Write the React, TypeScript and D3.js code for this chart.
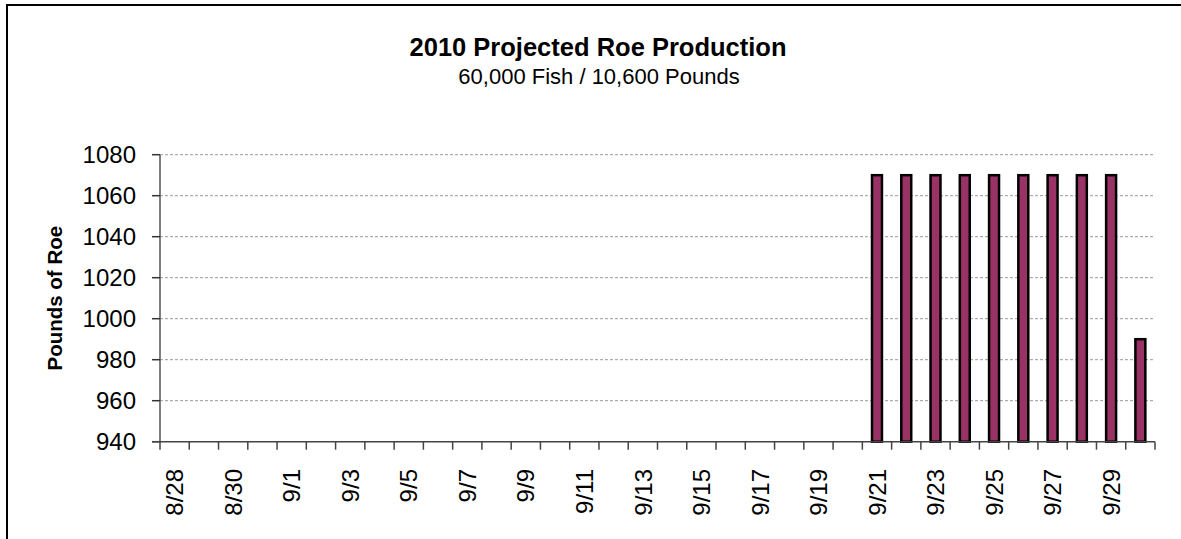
import React, { useRef, useEffect } from "react";
import * as d3 from "d3";

// Days shown on the x axis (8/28 .. 9/30)
const dates: string[] = [
  "8/28", "8/29", "8/30", "8/31",
  "9/1", "9/2", "9/3", "9/4", "9/5", "9/6", "9/7", "9/8", "9/9", "9/10",
  "9/11", "9/12", "9/13", "9/14", "9/15", "9/16", "9/17", "9/18", "9/19", "9/20",
  "9/21", "9/22", "9/23", "9/24", "9/25", "9/26", "9/27", "9/28", "9/29", "9/30",
];

// Pounds of roe per day (null = no production)
const pounds: (number | null)[] = [
  null, null, null, null,
  null, null, null, null, null, null, null, null, null, null,
  null, null, null, null, null, null, null, null, null, null,
  1070, 1070, 1070, 1070, 1070, 1070, 1070, 1070, 1070,
  990,
];

const yTicks: number[] = [940, 960, 980, 1000, 1020, 1040, 1060, 1080];

const title = "2010 Projected Roe Production";
const subtitle = "60,000 Fish / 10,600 Pounds";
const yTitle = "Pounds of Roe";

const WIDTH = 1181;
const HEIGHT = 539;
const FONT = "Arial, 'Liberation Sans', sans-serif";

const RoeChart: React.FC = () => {
  const svgRef = useRef<SVGSVGElement>(null);

  useEffect(() => {
    if (!svgRef.current) return;
    const svg = d3.select(svgRef.current);
    svg.selectAll("*").remove();

    const left = 160;
    const right = 1155;
    const top = 154.7;
    const bottom = 441.7;

    const x = d3
      .scaleBand<string>()
      .domain(dates)
      .range([left, right])
      .paddingInner(0.66)
      .paddingOuter(0.33);

    const y = d3.scaleLinear().domain([940, 1080]).range([bottom, top]);
    const step = x.step();

    // outer frame (right/bottom edges fall outside the picture)
    svg
      .append("rect")
      .attr("x", 7)
      .attr("y", 5)
      .attr("width", WIDTH + 20)
      .attr("height", HEIGHT + 20)
      .attr("fill", "none")
      .attr("stroke", "#000")
      .attr("stroke-width", 2);

    // titles
    svg
      .append("text")
      .attr("x", 598)
      .attr("y", 56)
      .attr("text-anchor", "middle")
      .attr("font-family", FONT)
      .attr("font-size", 25.5)
      .attr("font-weight", "bold")
      .text(title);

    svg
      .append("text")
      .attr("x", 599)
      .attr("y", 84)
      .attr("text-anchor", "middle")
      .attr("font-family", FONT)
      .attr("font-size", 22)
      .text(subtitle);

    // gridlines
    svg
      .append("g")
      .selectAll("line")
      .data(yTicks.filter((t) => t > 940))
      .enter()
      .append("line")
      .attr("x1", left)
      .attr("x2", right)
      .attr("y1", (d) => y(d))
      .attr("y2", (d) => y(d))
      .attr("stroke", "#999")
      .attr("stroke-width", 1)
      .attr("stroke-dasharray", "3,2");

    // y axis
    const yAxis = svg.append("g");
    yAxis
      .append("line")
      .attr("x1", left)
      .attr("x2", left)
      .attr("y1", top)
      .attr("y2", bottom)
      .attr("stroke", "#555")
      .attr("stroke-width", 1.5);
    yAxis
      .selectAll("line.tick")
      .data(yTicks)
      .enter()
      .append("line")
      .attr("class", "tick")
      .attr("x1", left - 8)
      .attr("x2", left)
      .attr("y1", (d) => y(d))
      .attr("y2", (d) => y(d))
      .attr("stroke", "#333")
      .attr("stroke-width", 1.5);
    yAxis
      .selectAll("text")
      .data(yTicks)
      .enter()
      .append("text")
      .attr("x", 136)
      .attr("y", (d) => y(d))
      .attr("dy", "0.36em")
      .attr("text-anchor", "end")
      .attr("font-family", FONT)
      .attr("font-size", 24)
      .text((d) => d);

    svg
      .append("text")
      .attr("transform", `translate(62, ${(top + bottom) / 2}) rotate(-90)`)
      .attr("text-anchor", "middle")
      .attr("font-family", FONT)
      .attr("font-size", 20.5)
      .attr("font-weight", "bold")
      .text(yTitle);

    // bars
    svg
      .append("g")
      .selectAll("rect")
      .data(dates.map((d, i) => ({ date: d, value: pounds[i] })).filter((d) => d.value != null))
      .enter()
      .append("rect")
      .attr("x", (d) => x(d.date)!)
      .attr("y", (d) => y(d.value as number))
      .attr("width", x.bandwidth())
      .attr("height", (d) => bottom - y(d.value as number))
      .attr("fill", "#993366")
      .attr("stroke", "#000")
      .attr("stroke-width", 2.5);

    // x axis
    const xAxis = svg.append("g");
    xAxis
      .append("line")
      .attr("x1", left - 8)
      .attr("x2", right)
      .attr("y1", bottom)
      .attr("y2", bottom)
      .attr("stroke", "#444")
      .attr("stroke-width", 1.5);
    xAxis
      .selectAll("line.tick")
      .data(d3.range(dates.length + 1))
      .enter()
      .append("line")
      .attr("class", "tick")
      .attr("x1", (i) => left + i * step)
      .attr("x2", (i) => left + i * step)
      .attr("y1", bottom)
      .attr("y2", bottom + 8)
      .attr("stroke", "#444")
      .attr("stroke-width", 1.5);
    xAxis
      .selectAll("text")
      .data(dates.filter((_, i) => i % 2 === 0))
      .enter()
      .append("text")
      .attr("transform", (d) => `translate(${x(d)! + x.bandwidth() / 2}, 469) rotate(-90)`)
      .attr("dy", "0.36em")
      .attr("text-anchor", "end")
      .attr("font-family", FONT)
      .attr("font-size", 24)
      .text((d) => d);
  }, []);

  return (
    <div style={{ position: "absolute", left: 0, top: 0, background: "#fff" }}>
      <svg ref={svgRef} width={WIDTH} height={HEIGHT} style={{ display: "block" }} />
    </div>
  );
};

export default function App() {
  return <RoeChart />;
}
